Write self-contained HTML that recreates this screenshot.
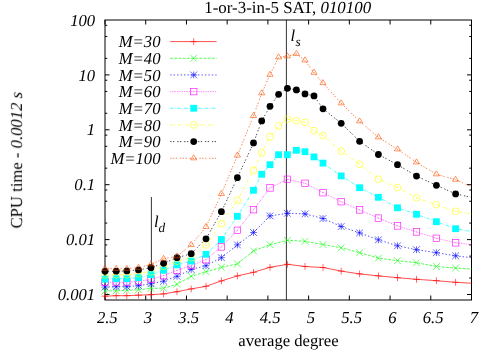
<!DOCTYPE html><html><head><meta charset="utf-8"><style>html,body{margin:0;padding:0;background:#fff}svg{display:block}text{font-family:"Liberation Serif",serif;font-size:16.67px;fill:#000;text-rendering:geometricPrecision}.i{font-style:italic}</style></head><body>
<svg width="500" height="350" viewBox="0 0 500 350">
<rect width="500" height="350" fill="#fff"/>
<defs><clipPath id="c"><rect x="105" y="20" width="366.5" height="280"/></clipPath></defs>
<g stroke="#000" stroke-width="1" fill="none">
<rect x="105" y="20" width="366.5" height="280"/>
<path d="M105 294.50h4.5M471.5 294.50h-4.5M105 277.97h2.25M471.5 277.97h-2.25M105 256.13h2.25M471.5 256.13h-2.25M105 244.92h2.25M471.5 244.92h-2.25M105 239.60h4.5M471.5 239.60h-4.5M105 223.07h2.25M471.5 223.07h-2.25M105 201.23h2.25M471.5 201.23h-2.25M105 190.02h2.25M471.5 190.02h-2.25M105 184.70h4.5M471.5 184.70h-4.5M105 168.17h2.25M471.5 168.17h-2.25M105 146.33h2.25M471.5 146.33h-2.25M105 135.12h2.25M471.5 135.12h-2.25M105 129.80h4.5M471.5 129.80h-4.5M105 113.27h2.25M471.5 113.27h-2.25M105 91.43h2.25M471.5 91.43h-2.25M105 80.22h2.25M471.5 80.22h-2.25M105 74.90h4.5M471.5 74.90h-4.5M105 58.37h2.25M471.5 58.37h-2.25M105 36.53h2.25M471.5 36.53h-2.25M105 25.32h2.25M471.5 25.32h-2.25M105.00 300v-4.5M105.00 20v4.5M145.72 300v-4.5M145.72 20v4.5M186.44 300v-4.5M186.44 20v4.5M227.17 300v-4.5M227.17 20v4.5M267.89 300v-4.5M267.89 20v4.5M308.61 300v-4.5M308.61 20v4.5M349.33 300v-4.5M349.33 20v4.5M390.06 300v-4.5M390.06 20v4.5M430.78 300v-4.5M430.78 20v4.5M471.50 300v-4.5M471.50 20v4.5"/>
<path d="M151.4 300V197M286.4 300V20" stroke-width="0.8"/>
</g>
<g clip-path="url(#c)">
<polyline points="105.00,296.20 116.20,295.70 126.80,295.70 138.50,295.20 151.00,294.70 163.60,293.90 177.00,291.70 191.20,288.90 206.00,286.30 221.40,280.90 237.40,275.90 253.50,272.30 270.00,267.30 287.40,264.30 305.00,266.50 323.00,267.50 341.20,271.10 359.60,273.90 378.40,275.90 397.50,277.70 416.50,279.30 436.40,280.70 455.60,282.30 476.00,283.50" fill="none" stroke="#ff0000" stroke-width="0.7"/>
<polyline points="105.00,291.00 116.20,290.80 126.80,290.30 138.50,289.80 151.00,288.30 163.60,288.20 177.00,284.30 191.20,276.30 206.00,271.70 221.40,267.30 237.40,263.90 253.50,250.90 270.00,244.70 287.40,240.30 305.00,241.30 323.00,244.50 341.20,247.80 359.60,252.70 378.40,258.10 397.50,260.70 416.50,262.70 436.40,266.50 455.60,268.10 476.00,269.10" fill="none" stroke="#00ff00" stroke-width="0.7" stroke-dasharray="2.78 1.39"/>
<polyline points="105.00,287.00 116.20,286.70 126.80,286.70 138.50,285.70 151.00,283.70 163.60,281.20 177.00,276.30 191.20,269.50 206.00,265.70 221.40,257.70 237.40,244.90 253.50,232.50 270.00,215.90 287.40,213.30 305.00,213.90 323.00,218.50 341.20,226.50 359.60,232.90 378.40,239.80 397.50,245.80 416.50,249.70 436.40,252.70 455.60,255.80 476.00,258.30" fill="none" stroke="#0000ff" stroke-width="0.7" stroke-dasharray="1.39 2.08"/>
<polyline points="105.00,282.10 116.20,282.20 126.80,282.20 138.50,281.30 151.00,279.50 163.60,275.70 177.00,270.30 191.20,265.50 206.00,259.70 221.40,246.90 237.40,230.30 253.50,209.70 270.00,187.90 287.40,179.30 305.00,183.30 323.00,192.70 341.20,201.70 359.60,209.90 378.40,218.10 397.50,225.90 416.50,231.90 436.40,238.30 455.60,242.80 476.00,245.10" fill="none" stroke="#ff00ff" stroke-width="0.7" stroke-dasharray="0.69 1.04"/>
<polyline points="105.00,279.10 116.20,278.70 126.80,278.70 138.50,277.70 151.00,274.70 163.60,270.30 177.00,264.90 191.20,261.10 206.00,254.30 221.40,239.50 237.40,216.30 253.50,190.30 261.70,174.30 270.00,164.70 278.60,154.70 287.40,154.70 296.40,150.30 305.00,151.70 314.00,156.90 323.00,163.10 341.20,175.90 359.60,187.70 378.40,197.30 397.50,207.80 416.50,214.30 436.40,221.70 455.60,228.70 476.00,232.30" fill="none" stroke="#00ffff" stroke-width="0.7" stroke-dasharray="3.47 1.39 0.69 1.39"/>
<polyline points="105.00,275.00 116.20,274.70 126.80,274.70 138.50,273.70 151.00,271.90 163.60,266.30 177.00,261.30 191.20,257.70 206.00,244.90 221.40,223.70 237.40,200.30 253.50,170.30 261.70,152.70 270.00,136.70 278.60,125.90 287.40,119.30 296.40,120.70 305.00,122.30 314.00,130.70 323.00,135.50 341.20,151.10 359.60,164.30 378.40,179.10 397.50,187.50 416.50,197.80 436.40,204.70 455.60,211.30 476.00,214.80" fill="none" stroke="#ffff00" stroke-width="0.7" stroke-dasharray="2.78 2.08 0.69 2.08"/>
<polyline points="105.00,271.30 116.20,271.20 126.80,270.90 138.50,269.90 151.00,267.70 163.60,263.30 177.00,257.70 191.20,253.70 206.00,238.80 221.40,211.70 237.40,177.70 253.50,142.90 261.70,120.90 270.00,106.30 278.60,94.30 287.40,88.30 296.40,89.90 305.00,93.90 314.00,95.90 323.00,108.80 341.20,123.30 359.60,141.30 378.40,154.50 397.50,164.70 416.50,176.10 436.40,185.30 455.60,193.90 476.00,198.30" fill="none" stroke="#000000" stroke-width="0.7" stroke-dasharray="1.39 1.39 1.39 2.78"/>
<polyline points="105.00,268.70 116.20,268.70 126.80,268.70 138.50,267.70 151.00,264.30 163.60,258.80 177.00,256.30 191.20,244.90 206.00,226.90 221.40,193.90 237.40,155.50 253.50,115.90 261.70,93.30 270.00,74.70 278.60,57.30 287.40,56.30 296.40,53.90 305.00,60.30 314.00,72.70 323.00,83.10 341.20,103.30 359.60,121.30 378.40,137.30 397.50,149.30 416.50,162.30 436.40,174.30 455.60,179.70 476.00,188.80" fill="none" stroke="#ff4d00" stroke-width="0.7" stroke-dasharray="1.39 1.39 1.39 1.39 1.39 2.78"/>
</g>
<path d="M105.00 292.80V299.60M101.60 296.20H108.40" stroke="#ff0000" stroke-width="0.60" fill="none"/>
<path d="M116.20 292.30V299.10M112.80 295.70H119.60" stroke="#ff0000" stroke-width="0.60" fill="none"/>
<path d="M126.80 292.30V299.10M123.40 295.70H130.20" stroke="#ff0000" stroke-width="0.60" fill="none"/>
<path d="M138.50 291.80V298.60M135.10 295.20H141.90" stroke="#ff0000" stroke-width="0.60" fill="none"/>
<path d="M151.00 291.30V298.10M147.60 294.70H154.40" stroke="#ff0000" stroke-width="0.60" fill="none"/>
<path d="M163.60 290.50V297.30M160.20 293.90H167.00" stroke="#ff0000" stroke-width="0.60" fill="none"/>
<path d="M177.00 288.30V295.10M173.60 291.70H180.40" stroke="#ff0000" stroke-width="0.60" fill="none"/>
<path d="M191.20 285.50V292.30M187.80 288.90H194.60" stroke="#ff0000" stroke-width="0.60" fill="none"/>
<path d="M206.00 282.90V289.70M202.60 286.30H209.40" stroke="#ff0000" stroke-width="0.60" fill="none"/>
<path d="M221.40 277.50V284.30M218.00 280.90H224.80" stroke="#ff0000" stroke-width="0.60" fill="none"/>
<path d="M237.40 272.50V279.30M234.00 275.90H240.80" stroke="#ff0000" stroke-width="0.60" fill="none"/>
<path d="M253.50 268.90V275.70M250.10 272.30H256.90" stroke="#ff0000" stroke-width="0.60" fill="none"/>
<path d="M270.00 263.90V270.70M266.60 267.30H273.40" stroke="#ff0000" stroke-width="0.60" fill="none"/>
<path d="M287.40 260.90V267.70M284.00 264.30H290.80" stroke="#ff0000" stroke-width="0.60" fill="none"/>
<path d="M305.00 263.10V269.90M301.60 266.50H308.40" stroke="#ff0000" stroke-width="0.60" fill="none"/>
<path d="M323.00 264.10V270.90M319.60 267.50H326.40" stroke="#ff0000" stroke-width="0.60" fill="none"/>
<path d="M341.20 267.70V274.50M337.80 271.10H344.60" stroke="#ff0000" stroke-width="0.60" fill="none"/>
<path d="M359.60 270.50V277.30M356.20 273.90H363.00" stroke="#ff0000" stroke-width="0.60" fill="none"/>
<path d="M378.40 272.50V279.30M375.00 275.90H381.80" stroke="#ff0000" stroke-width="0.60" fill="none"/>
<path d="M397.50 274.30V281.10M394.10 277.70H400.90" stroke="#ff0000" stroke-width="0.60" fill="none"/>
<path d="M416.50 275.90V282.70M413.10 279.30H419.90" stroke="#ff0000" stroke-width="0.60" fill="none"/>
<path d="M436.40 277.30V284.10M433.00 280.70H439.80" stroke="#ff0000" stroke-width="0.60" fill="none"/>
<path d="M455.60 278.90V285.70M452.20 282.30H459.00" stroke="#ff0000" stroke-width="0.60" fill="none"/>
<path d="M101.60 287.60L108.40 294.40M101.60 294.40L108.40 287.60" stroke="#00ff00" stroke-width="0.60" fill="none"/>
<path d="M112.80 287.40L119.60 294.20M112.80 294.20L119.60 287.40" stroke="#00ff00" stroke-width="0.60" fill="none"/>
<path d="M123.40 286.90L130.20 293.70M123.40 293.70L130.20 286.90" stroke="#00ff00" stroke-width="0.60" fill="none"/>
<path d="M135.10 286.40L141.90 293.20M135.10 293.20L141.90 286.40" stroke="#00ff00" stroke-width="0.60" fill="none"/>
<path d="M147.60 284.90L154.40 291.70M147.60 291.70L154.40 284.90" stroke="#00ff00" stroke-width="0.60" fill="none"/>
<path d="M160.20 284.80L167.00 291.60M160.20 291.60L167.00 284.80" stroke="#00ff00" stroke-width="0.60" fill="none"/>
<path d="M173.60 280.90L180.40 287.70M173.60 287.70L180.40 280.90" stroke="#00ff00" stroke-width="0.60" fill="none"/>
<path d="M187.80 272.90L194.60 279.70M187.80 279.70L194.60 272.90" stroke="#00ff00" stroke-width="0.60" fill="none"/>
<path d="M202.60 268.30L209.40 275.10M202.60 275.10L209.40 268.30" stroke="#00ff00" stroke-width="0.60" fill="none"/>
<path d="M218.00 263.90L224.80 270.70M218.00 270.70L224.80 263.90" stroke="#00ff00" stroke-width="0.60" fill="none"/>
<path d="M234.00 260.50L240.80 267.30M234.00 267.30L240.80 260.50" stroke="#00ff00" stroke-width="0.60" fill="none"/>
<path d="M250.10 247.50L256.90 254.30M250.10 254.30L256.90 247.50" stroke="#00ff00" stroke-width="0.60" fill="none"/>
<path d="M266.60 241.30L273.40 248.10M266.60 248.10L273.40 241.30" stroke="#00ff00" stroke-width="0.60" fill="none"/>
<path d="M284.00 236.90L290.80 243.70M284.00 243.70L290.80 236.90" stroke="#00ff00" stroke-width="0.60" fill="none"/>
<path d="M301.60 237.90L308.40 244.70M301.60 244.70L308.40 237.90" stroke="#00ff00" stroke-width="0.60" fill="none"/>
<path d="M319.60 241.10L326.40 247.90M319.60 247.90L326.40 241.10" stroke="#00ff00" stroke-width="0.60" fill="none"/>
<path d="M337.80 244.40L344.60 251.20M337.80 251.20L344.60 244.40" stroke="#00ff00" stroke-width="0.60" fill="none"/>
<path d="M356.20 249.30L363.00 256.10M356.20 256.10L363.00 249.30" stroke="#00ff00" stroke-width="0.60" fill="none"/>
<path d="M375.00 254.70L381.80 261.50M375.00 261.50L381.80 254.70" stroke="#00ff00" stroke-width="0.60" fill="none"/>
<path d="M394.10 257.30L400.90 264.10M394.10 264.10L400.90 257.30" stroke="#00ff00" stroke-width="0.60" fill="none"/>
<path d="M413.10 259.30L419.90 266.10M413.10 266.10L419.90 259.30" stroke="#00ff00" stroke-width="0.60" fill="none"/>
<path d="M433.00 263.10L439.80 269.90M433.00 269.90L439.80 263.10" stroke="#00ff00" stroke-width="0.60" fill="none"/>
<path d="M452.20 264.70L459.00 271.50M452.20 271.50L459.00 264.70" stroke="#00ff00" stroke-width="0.60" fill="none"/>
<path d="M105.00 283.60V290.40M101.60 287.00H108.40" stroke="#0000ff" stroke-width="0.60" fill="none"/><path d="M101.60 283.60L108.40 290.40M101.60 290.40L108.40 283.60" stroke="#0000ff" stroke-width="0.60" fill="none"/>
<path d="M116.20 283.30V290.10M112.80 286.70H119.60" stroke="#0000ff" stroke-width="0.60" fill="none"/><path d="M112.80 283.30L119.60 290.10M112.80 290.10L119.60 283.30" stroke="#0000ff" stroke-width="0.60" fill="none"/>
<path d="M126.80 283.30V290.10M123.40 286.70H130.20" stroke="#0000ff" stroke-width="0.60" fill="none"/><path d="M123.40 283.30L130.20 290.10M123.40 290.10L130.20 283.30" stroke="#0000ff" stroke-width="0.60" fill="none"/>
<path d="M138.50 282.30V289.10M135.10 285.70H141.90" stroke="#0000ff" stroke-width="0.60" fill="none"/><path d="M135.10 282.30L141.90 289.10M135.10 289.10L141.90 282.30" stroke="#0000ff" stroke-width="0.60" fill="none"/>
<path d="M151.00 280.30V287.10M147.60 283.70H154.40" stroke="#0000ff" stroke-width="0.60" fill="none"/><path d="M147.60 280.30L154.40 287.10M147.60 287.10L154.40 280.30" stroke="#0000ff" stroke-width="0.60" fill="none"/>
<path d="M163.60 277.80V284.60M160.20 281.20H167.00" stroke="#0000ff" stroke-width="0.60" fill="none"/><path d="M160.20 277.80L167.00 284.60M160.20 284.60L167.00 277.80" stroke="#0000ff" stroke-width="0.60" fill="none"/>
<path d="M177.00 272.90V279.70M173.60 276.30H180.40" stroke="#0000ff" stroke-width="0.60" fill="none"/><path d="M173.60 272.90L180.40 279.70M173.60 279.70L180.40 272.90" stroke="#0000ff" stroke-width="0.60" fill="none"/>
<path d="M191.20 266.10V272.90M187.80 269.50H194.60" stroke="#0000ff" stroke-width="0.60" fill="none"/><path d="M187.80 266.10L194.60 272.90M187.80 272.90L194.60 266.10" stroke="#0000ff" stroke-width="0.60" fill="none"/>
<path d="M206.00 262.30V269.10M202.60 265.70H209.40" stroke="#0000ff" stroke-width="0.60" fill="none"/><path d="M202.60 262.30L209.40 269.10M202.60 269.10L209.40 262.30" stroke="#0000ff" stroke-width="0.60" fill="none"/>
<path d="M221.40 254.30V261.10M218.00 257.70H224.80" stroke="#0000ff" stroke-width="0.60" fill="none"/><path d="M218.00 254.30L224.80 261.10M218.00 261.10L224.80 254.30" stroke="#0000ff" stroke-width="0.60" fill="none"/>
<path d="M237.40 241.50V248.30M234.00 244.90H240.80" stroke="#0000ff" stroke-width="0.60" fill="none"/><path d="M234.00 241.50L240.80 248.30M234.00 248.30L240.80 241.50" stroke="#0000ff" stroke-width="0.60" fill="none"/>
<path d="M253.50 229.10V235.90M250.10 232.50H256.90" stroke="#0000ff" stroke-width="0.60" fill="none"/><path d="M250.10 229.10L256.90 235.90M250.10 235.90L256.90 229.10" stroke="#0000ff" stroke-width="0.60" fill="none"/>
<path d="M270.00 212.50V219.30M266.60 215.90H273.40" stroke="#0000ff" stroke-width="0.60" fill="none"/><path d="M266.60 212.50L273.40 219.30M266.60 219.30L273.40 212.50" stroke="#0000ff" stroke-width="0.60" fill="none"/>
<path d="M287.40 209.90V216.70M284.00 213.30H290.80" stroke="#0000ff" stroke-width="0.60" fill="none"/><path d="M284.00 209.90L290.80 216.70M284.00 216.70L290.80 209.90" stroke="#0000ff" stroke-width="0.60" fill="none"/>
<path d="M305.00 210.50V217.30M301.60 213.90H308.40" stroke="#0000ff" stroke-width="0.60" fill="none"/><path d="M301.60 210.50L308.40 217.30M301.60 217.30L308.40 210.50" stroke="#0000ff" stroke-width="0.60" fill="none"/>
<path d="M323.00 215.10V221.90M319.60 218.50H326.40" stroke="#0000ff" stroke-width="0.60" fill="none"/><path d="M319.60 215.10L326.40 221.90M319.60 221.90L326.40 215.10" stroke="#0000ff" stroke-width="0.60" fill="none"/>
<path d="M341.20 223.10V229.90M337.80 226.50H344.60" stroke="#0000ff" stroke-width="0.60" fill="none"/><path d="M337.80 223.10L344.60 229.90M337.80 229.90L344.60 223.10" stroke="#0000ff" stroke-width="0.60" fill="none"/>
<path d="M359.60 229.50V236.30M356.20 232.90H363.00" stroke="#0000ff" stroke-width="0.60" fill="none"/><path d="M356.20 229.50L363.00 236.30M356.20 236.30L363.00 229.50" stroke="#0000ff" stroke-width="0.60" fill="none"/>
<path d="M378.40 236.40V243.20M375.00 239.80H381.80" stroke="#0000ff" stroke-width="0.60" fill="none"/><path d="M375.00 236.40L381.80 243.20M375.00 243.20L381.80 236.40" stroke="#0000ff" stroke-width="0.60" fill="none"/>
<path d="M397.50 242.40V249.20M394.10 245.80H400.90" stroke="#0000ff" stroke-width="0.60" fill="none"/><path d="M394.10 242.40L400.90 249.20M394.10 249.20L400.90 242.40" stroke="#0000ff" stroke-width="0.60" fill="none"/>
<path d="M416.50 246.30V253.10M413.10 249.70H419.90" stroke="#0000ff" stroke-width="0.60" fill="none"/><path d="M413.10 246.30L419.90 253.10M413.10 253.10L419.90 246.30" stroke="#0000ff" stroke-width="0.60" fill="none"/>
<path d="M436.40 249.30V256.10M433.00 252.70H439.80" stroke="#0000ff" stroke-width="0.60" fill="none"/><path d="M433.00 249.30L439.80 256.10M433.00 256.10L439.80 249.30" stroke="#0000ff" stroke-width="0.60" fill="none"/>
<path d="M455.60 252.40V259.20M452.20 255.80H459.00" stroke="#0000ff" stroke-width="0.60" fill="none"/><path d="M452.20 252.40L459.00 259.20M452.20 259.20L459.00 252.40" stroke="#0000ff" stroke-width="0.60" fill="none"/>
<rect x="101.75" y="278.85" width="6.50" height="6.50" stroke="#ff00ff" stroke-width="0.60" fill="none"/><circle cx="105.00" cy="282.10" r="0.4" fill="#ff00ff"/>
<rect x="112.95" y="278.95" width="6.50" height="6.50" stroke="#ff00ff" stroke-width="0.60" fill="none"/><circle cx="116.20" cy="282.20" r="0.4" fill="#ff00ff"/>
<rect x="123.55" y="278.95" width="6.50" height="6.50" stroke="#ff00ff" stroke-width="0.60" fill="none"/><circle cx="126.80" cy="282.20" r="0.4" fill="#ff00ff"/>
<rect x="135.25" y="278.05" width="6.50" height="6.50" stroke="#ff00ff" stroke-width="0.60" fill="none"/><circle cx="138.50" cy="281.30" r="0.4" fill="#ff00ff"/>
<rect x="147.75" y="276.25" width="6.50" height="6.50" stroke="#ff00ff" stroke-width="0.60" fill="none"/><circle cx="151.00" cy="279.50" r="0.4" fill="#ff00ff"/>
<rect x="160.35" y="272.45" width="6.50" height="6.50" stroke="#ff00ff" stroke-width="0.60" fill="none"/><circle cx="163.60" cy="275.70" r="0.4" fill="#ff00ff"/>
<rect x="173.75" y="267.05" width="6.50" height="6.50" stroke="#ff00ff" stroke-width="0.60" fill="none"/><circle cx="177.00" cy="270.30" r="0.4" fill="#ff00ff"/>
<rect x="187.95" y="262.25" width="6.50" height="6.50" stroke="#ff00ff" stroke-width="0.60" fill="none"/><circle cx="191.20" cy="265.50" r="0.4" fill="#ff00ff"/>
<rect x="202.75" y="256.45" width="6.50" height="6.50" stroke="#ff00ff" stroke-width="0.60" fill="none"/><circle cx="206.00" cy="259.70" r="0.4" fill="#ff00ff"/>
<rect x="218.15" y="243.65" width="6.50" height="6.50" stroke="#ff00ff" stroke-width="0.60" fill="none"/><circle cx="221.40" cy="246.90" r="0.4" fill="#ff00ff"/>
<rect x="234.15" y="227.05" width="6.50" height="6.50" stroke="#ff00ff" stroke-width="0.60" fill="none"/><circle cx="237.40" cy="230.30" r="0.4" fill="#ff00ff"/>
<rect x="250.25" y="206.45" width="6.50" height="6.50" stroke="#ff00ff" stroke-width="0.60" fill="none"/><circle cx="253.50" cy="209.70" r="0.4" fill="#ff00ff"/>
<rect x="266.75" y="184.65" width="6.50" height="6.50" stroke="#ff00ff" stroke-width="0.60" fill="none"/><circle cx="270.00" cy="187.90" r="0.4" fill="#ff00ff"/>
<rect x="284.15" y="176.05" width="6.50" height="6.50" stroke="#ff00ff" stroke-width="0.60" fill="none"/><circle cx="287.40" cy="179.30" r="0.4" fill="#ff00ff"/>
<rect x="301.75" y="180.05" width="6.50" height="6.50" stroke="#ff00ff" stroke-width="0.60" fill="none"/><circle cx="305.00" cy="183.30" r="0.4" fill="#ff00ff"/>
<rect x="319.75" y="189.45" width="6.50" height="6.50" stroke="#ff00ff" stroke-width="0.60" fill="none"/><circle cx="323.00" cy="192.70" r="0.4" fill="#ff00ff"/>
<rect x="337.95" y="198.45" width="6.50" height="6.50" stroke="#ff00ff" stroke-width="0.60" fill="none"/><circle cx="341.20" cy="201.70" r="0.4" fill="#ff00ff"/>
<rect x="356.35" y="206.65" width="6.50" height="6.50" stroke="#ff00ff" stroke-width="0.60" fill="none"/><circle cx="359.60" cy="209.90" r="0.4" fill="#ff00ff"/>
<rect x="375.15" y="214.85" width="6.50" height="6.50" stroke="#ff00ff" stroke-width="0.60" fill="none"/><circle cx="378.40" cy="218.10" r="0.4" fill="#ff00ff"/>
<rect x="394.25" y="222.65" width="6.50" height="6.50" stroke="#ff00ff" stroke-width="0.60" fill="none"/><circle cx="397.50" cy="225.90" r="0.4" fill="#ff00ff"/>
<rect x="413.25" y="228.65" width="6.50" height="6.50" stroke="#ff00ff" stroke-width="0.60" fill="none"/><circle cx="416.50" cy="231.90" r="0.4" fill="#ff00ff"/>
<rect x="433.15" y="235.05" width="6.50" height="6.50" stroke="#ff00ff" stroke-width="0.60" fill="none"/><circle cx="436.40" cy="238.30" r="0.4" fill="#ff00ff"/>
<rect x="452.35" y="239.55" width="6.50" height="6.50" stroke="#ff00ff" stroke-width="0.60" fill="none"/><circle cx="455.60" cy="242.80" r="0.4" fill="#ff00ff"/>
<rect x="101.60" y="275.70" width="6.80" height="6.80" fill="#00ffff"/>
<rect x="112.80" y="275.30" width="6.80" height="6.80" fill="#00ffff"/>
<rect x="123.40" y="275.30" width="6.80" height="6.80" fill="#00ffff"/>
<rect x="135.10" y="274.30" width="6.80" height="6.80" fill="#00ffff"/>
<rect x="147.60" y="271.30" width="6.80" height="6.80" fill="#00ffff"/>
<rect x="160.20" y="266.90" width="6.80" height="6.80" fill="#00ffff"/>
<rect x="173.60" y="261.50" width="6.80" height="6.80" fill="#00ffff"/>
<rect x="187.80" y="257.70" width="6.80" height="6.80" fill="#00ffff"/>
<rect x="202.60" y="250.90" width="6.80" height="6.80" fill="#00ffff"/>
<rect x="218.00" y="236.10" width="6.80" height="6.80" fill="#00ffff"/>
<rect x="234.00" y="212.90" width="6.80" height="6.80" fill="#00ffff"/>
<rect x="250.10" y="186.90" width="6.80" height="6.80" fill="#00ffff"/>
<rect x="258.30" y="170.90" width="6.80" height="6.80" fill="#00ffff"/>
<rect x="266.60" y="161.30" width="6.80" height="6.80" fill="#00ffff"/>
<rect x="275.20" y="151.30" width="6.80" height="6.80" fill="#00ffff"/>
<rect x="284.00" y="151.30" width="6.80" height="6.80" fill="#00ffff"/>
<rect x="293.00" y="146.90" width="6.80" height="6.80" fill="#00ffff"/>
<rect x="301.60" y="148.30" width="6.80" height="6.80" fill="#00ffff"/>
<rect x="310.60" y="153.50" width="6.80" height="6.80" fill="#00ffff"/>
<rect x="319.60" y="159.70" width="6.80" height="6.80" fill="#00ffff"/>
<rect x="337.80" y="172.50" width="6.80" height="6.80" fill="#00ffff"/>
<rect x="356.20" y="184.30" width="6.80" height="6.80" fill="#00ffff"/>
<rect x="375.00" y="193.90" width="6.80" height="6.80" fill="#00ffff"/>
<rect x="394.10" y="204.40" width="6.80" height="6.80" fill="#00ffff"/>
<rect x="413.10" y="210.90" width="6.80" height="6.80" fill="#00ffff"/>
<rect x="433.00" y="218.30" width="6.80" height="6.80" fill="#00ffff"/>
<rect x="452.20" y="225.30" width="6.80" height="6.80" fill="#00ffff"/>
<circle cx="105.00" cy="275.00" r="3.40" stroke="#ffff00" stroke-width="0.60" fill="none"/><circle cx="105.00" cy="275.00" r="0.4" fill="#ffff00"/>
<circle cx="116.20" cy="274.70" r="3.40" stroke="#ffff00" stroke-width="0.60" fill="none"/><circle cx="116.20" cy="274.70" r="0.4" fill="#ffff00"/>
<circle cx="126.80" cy="274.70" r="3.40" stroke="#ffff00" stroke-width="0.60" fill="none"/><circle cx="126.80" cy="274.70" r="0.4" fill="#ffff00"/>
<circle cx="138.50" cy="273.70" r="3.40" stroke="#ffff00" stroke-width="0.60" fill="none"/><circle cx="138.50" cy="273.70" r="0.4" fill="#ffff00"/>
<circle cx="151.00" cy="271.90" r="3.40" stroke="#ffff00" stroke-width="0.60" fill="none"/><circle cx="151.00" cy="271.90" r="0.4" fill="#ffff00"/>
<circle cx="163.60" cy="266.30" r="3.40" stroke="#ffff00" stroke-width="0.60" fill="none"/><circle cx="163.60" cy="266.30" r="0.4" fill="#ffff00"/>
<circle cx="177.00" cy="261.30" r="3.40" stroke="#ffff00" stroke-width="0.60" fill="none"/><circle cx="177.00" cy="261.30" r="0.4" fill="#ffff00"/>
<circle cx="191.20" cy="257.70" r="3.40" stroke="#ffff00" stroke-width="0.60" fill="none"/><circle cx="191.20" cy="257.70" r="0.4" fill="#ffff00"/>
<circle cx="206.00" cy="244.90" r="3.40" stroke="#ffff00" stroke-width="0.60" fill="none"/><circle cx="206.00" cy="244.90" r="0.4" fill="#ffff00"/>
<circle cx="221.40" cy="223.70" r="3.40" stroke="#ffff00" stroke-width="0.60" fill="none"/><circle cx="221.40" cy="223.70" r="0.4" fill="#ffff00"/>
<circle cx="237.40" cy="200.30" r="3.40" stroke="#ffff00" stroke-width="0.60" fill="none"/><circle cx="237.40" cy="200.30" r="0.4" fill="#ffff00"/>
<circle cx="253.50" cy="170.30" r="3.40" stroke="#ffff00" stroke-width="0.60" fill="none"/><circle cx="253.50" cy="170.30" r="0.4" fill="#ffff00"/>
<circle cx="261.70" cy="152.70" r="3.40" stroke="#ffff00" stroke-width="0.60" fill="none"/><circle cx="261.70" cy="152.70" r="0.4" fill="#ffff00"/>
<circle cx="270.00" cy="136.70" r="3.40" stroke="#ffff00" stroke-width="0.60" fill="none"/><circle cx="270.00" cy="136.70" r="0.4" fill="#ffff00"/>
<circle cx="278.60" cy="125.90" r="3.40" stroke="#ffff00" stroke-width="0.60" fill="none"/><circle cx="278.60" cy="125.90" r="0.4" fill="#ffff00"/>
<circle cx="287.40" cy="119.30" r="3.40" stroke="#ffff00" stroke-width="0.60" fill="none"/><circle cx="287.40" cy="119.30" r="0.4" fill="#ffff00"/>
<circle cx="296.40" cy="120.70" r="3.40" stroke="#ffff00" stroke-width="0.60" fill="none"/><circle cx="296.40" cy="120.70" r="0.4" fill="#ffff00"/>
<circle cx="305.00" cy="122.30" r="3.40" stroke="#ffff00" stroke-width="0.60" fill="none"/><circle cx="305.00" cy="122.30" r="0.4" fill="#ffff00"/>
<circle cx="314.00" cy="130.70" r="3.40" stroke="#ffff00" stroke-width="0.60" fill="none"/><circle cx="314.00" cy="130.70" r="0.4" fill="#ffff00"/>
<circle cx="323.00" cy="135.50" r="3.40" stroke="#ffff00" stroke-width="0.60" fill="none"/><circle cx="323.00" cy="135.50" r="0.4" fill="#ffff00"/>
<circle cx="341.20" cy="151.10" r="3.40" stroke="#ffff00" stroke-width="0.60" fill="none"/><circle cx="341.20" cy="151.10" r="0.4" fill="#ffff00"/>
<circle cx="359.60" cy="164.30" r="3.40" stroke="#ffff00" stroke-width="0.60" fill="none"/><circle cx="359.60" cy="164.30" r="0.4" fill="#ffff00"/>
<circle cx="378.40" cy="179.10" r="3.40" stroke="#ffff00" stroke-width="0.60" fill="none"/><circle cx="378.40" cy="179.10" r="0.4" fill="#ffff00"/>
<circle cx="397.50" cy="187.50" r="3.40" stroke="#ffff00" stroke-width="0.60" fill="none"/><circle cx="397.50" cy="187.50" r="0.4" fill="#ffff00"/>
<circle cx="416.50" cy="197.80" r="3.40" stroke="#ffff00" stroke-width="0.60" fill="none"/><circle cx="416.50" cy="197.80" r="0.4" fill="#ffff00"/>
<circle cx="436.40" cy="204.70" r="3.40" stroke="#ffff00" stroke-width="0.60" fill="none"/><circle cx="436.40" cy="204.70" r="0.4" fill="#ffff00"/>
<circle cx="455.60" cy="211.30" r="3.40" stroke="#ffff00" stroke-width="0.60" fill="none"/><circle cx="455.60" cy="211.30" r="0.4" fill="#ffff00"/>
<circle cx="105.00" cy="271.30" r="3.40" fill="#000000"/>
<circle cx="116.20" cy="271.20" r="3.40" fill="#000000"/>
<circle cx="126.80" cy="270.90" r="3.40" fill="#000000"/>
<circle cx="138.50" cy="269.90" r="3.40" fill="#000000"/>
<circle cx="151.00" cy="267.70" r="3.40" fill="#000000"/>
<circle cx="163.60" cy="263.30" r="3.40" fill="#000000"/>
<circle cx="177.00" cy="257.70" r="3.40" fill="#000000"/>
<circle cx="191.20" cy="253.70" r="3.40" fill="#000000"/>
<circle cx="206.00" cy="238.80" r="3.40" fill="#000000"/>
<circle cx="221.40" cy="211.70" r="3.40" fill="#000000"/>
<circle cx="237.40" cy="177.70" r="3.40" fill="#000000"/>
<circle cx="253.50" cy="142.90" r="3.40" fill="#000000"/>
<circle cx="261.70" cy="120.90" r="3.40" fill="#000000"/>
<circle cx="270.00" cy="106.30" r="3.40" fill="#000000"/>
<circle cx="278.60" cy="94.30" r="3.40" fill="#000000"/>
<circle cx="287.40" cy="88.30" r="3.40" fill="#000000"/>
<circle cx="296.40" cy="89.90" r="3.40" fill="#000000"/>
<circle cx="305.00" cy="93.90" r="3.40" fill="#000000"/>
<circle cx="314.00" cy="95.90" r="3.40" fill="#000000"/>
<circle cx="323.00" cy="108.80" r="3.40" fill="#000000"/>
<circle cx="341.20" cy="123.30" r="3.40" fill="#000000"/>
<circle cx="359.60" cy="141.30" r="3.40" fill="#000000"/>
<circle cx="378.40" cy="154.50" r="3.40" fill="#000000"/>
<circle cx="397.50" cy="164.70" r="3.40" fill="#000000"/>
<circle cx="416.50" cy="176.10" r="3.40" fill="#000000"/>
<circle cx="436.40" cy="185.30" r="3.40" fill="#000000"/>
<circle cx="455.60" cy="193.90" r="3.40" fill="#000000"/>
<path d="M105.00 265.23L101.90 270.25L108.10 270.25Z" stroke="#ff4d00" stroke-width="0.60" fill="none"/><circle cx="105.00" cy="268.70" r="0.4" fill="#ff4d00"/>
<path d="M116.20 265.23L113.10 270.25L119.30 270.25Z" stroke="#ff4d00" stroke-width="0.60" fill="none"/><circle cx="116.20" cy="268.70" r="0.4" fill="#ff4d00"/>
<path d="M126.80 265.23L123.70 270.25L129.90 270.25Z" stroke="#ff4d00" stroke-width="0.60" fill="none"/><circle cx="126.80" cy="268.70" r="0.4" fill="#ff4d00"/>
<path d="M138.50 264.23L135.40 269.25L141.60 269.25Z" stroke="#ff4d00" stroke-width="0.60" fill="none"/><circle cx="138.50" cy="267.70" r="0.4" fill="#ff4d00"/>
<path d="M151.00 260.83L147.90 265.85L154.10 265.85Z" stroke="#ff4d00" stroke-width="0.60" fill="none"/><circle cx="151.00" cy="264.30" r="0.4" fill="#ff4d00"/>
<path d="M163.60 255.33L160.50 260.35L166.70 260.35Z" stroke="#ff4d00" stroke-width="0.60" fill="none"/><circle cx="163.60" cy="258.80" r="0.4" fill="#ff4d00"/>
<path d="M177.00 252.83L173.90 257.85L180.10 257.85Z" stroke="#ff4d00" stroke-width="0.60" fill="none"/><circle cx="177.00" cy="256.30" r="0.4" fill="#ff4d00"/>
<path d="M191.20 241.43L188.10 246.45L194.30 246.45Z" stroke="#ff4d00" stroke-width="0.60" fill="none"/><circle cx="191.20" cy="244.90" r="0.4" fill="#ff4d00"/>
<path d="M206.00 223.43L202.90 228.45L209.10 228.45Z" stroke="#ff4d00" stroke-width="0.60" fill="none"/><circle cx="206.00" cy="226.90" r="0.4" fill="#ff4d00"/>
<path d="M221.40 190.43L218.30 195.45L224.50 195.45Z" stroke="#ff4d00" stroke-width="0.60" fill="none"/><circle cx="221.40" cy="193.90" r="0.4" fill="#ff4d00"/>
<path d="M237.40 152.03L234.30 157.05L240.50 157.05Z" stroke="#ff4d00" stroke-width="0.60" fill="none"/><circle cx="237.40" cy="155.50" r="0.4" fill="#ff4d00"/>
<path d="M253.50 112.43L250.40 117.45L256.60 117.45Z" stroke="#ff4d00" stroke-width="0.60" fill="none"/><circle cx="253.50" cy="115.90" r="0.4" fill="#ff4d00"/>
<path d="M261.70 89.83L258.60 94.85L264.80 94.85Z" stroke="#ff4d00" stroke-width="0.60" fill="none"/><circle cx="261.70" cy="93.30" r="0.4" fill="#ff4d00"/>
<path d="M270.00 71.23L266.90 76.25L273.10 76.25Z" stroke="#ff4d00" stroke-width="0.60" fill="none"/><circle cx="270.00" cy="74.70" r="0.4" fill="#ff4d00"/>
<path d="M278.60 53.83L275.50 58.85L281.70 58.85Z" stroke="#ff4d00" stroke-width="0.60" fill="none"/><circle cx="278.60" cy="57.30" r="0.4" fill="#ff4d00"/>
<path d="M287.40 52.83L284.30 57.85L290.50 57.85Z" stroke="#ff4d00" stroke-width="0.60" fill="none"/><circle cx="287.40" cy="56.30" r="0.4" fill="#ff4d00"/>
<path d="M296.40 50.43L293.30 55.45L299.50 55.45Z" stroke="#ff4d00" stroke-width="0.60" fill="none"/><circle cx="296.40" cy="53.90" r="0.4" fill="#ff4d00"/>
<path d="M305.00 56.83L301.90 61.85L308.10 61.85Z" stroke="#ff4d00" stroke-width="0.60" fill="none"/><circle cx="305.00" cy="60.30" r="0.4" fill="#ff4d00"/>
<path d="M314.00 69.23L310.90 74.25L317.10 74.25Z" stroke="#ff4d00" stroke-width="0.60" fill="none"/><circle cx="314.00" cy="72.70" r="0.4" fill="#ff4d00"/>
<path d="M323.00 79.63L319.90 84.65L326.10 84.65Z" stroke="#ff4d00" stroke-width="0.60" fill="none"/><circle cx="323.00" cy="83.10" r="0.4" fill="#ff4d00"/>
<path d="M341.20 99.83L338.10 104.85L344.30 104.85Z" stroke="#ff4d00" stroke-width="0.60" fill="none"/><circle cx="341.20" cy="103.30" r="0.4" fill="#ff4d00"/>
<path d="M359.60 117.83L356.50 122.85L362.70 122.85Z" stroke="#ff4d00" stroke-width="0.60" fill="none"/><circle cx="359.60" cy="121.30" r="0.4" fill="#ff4d00"/>
<path d="M378.40 133.83L375.30 138.85L381.50 138.85Z" stroke="#ff4d00" stroke-width="0.60" fill="none"/><circle cx="378.40" cy="137.30" r="0.4" fill="#ff4d00"/>
<path d="M397.50 145.83L394.40 150.85L400.60 150.85Z" stroke="#ff4d00" stroke-width="0.60" fill="none"/><circle cx="397.50" cy="149.30" r="0.4" fill="#ff4d00"/>
<path d="M416.50 158.83L413.40 163.85L419.60 163.85Z" stroke="#ff4d00" stroke-width="0.60" fill="none"/><circle cx="416.50" cy="162.30" r="0.4" fill="#ff4d00"/>
<path d="M436.40 170.83L433.30 175.85L439.50 175.85Z" stroke="#ff4d00" stroke-width="0.60" fill="none"/><circle cx="436.40" cy="174.30" r="0.4" fill="#ff4d00"/>
<path d="M455.60 176.23L452.50 181.25L458.70 181.25Z" stroke="#ff4d00" stroke-width="0.60" fill="none"/><circle cx="455.60" cy="179.70" r="0.4" fill="#ff4d00"/>
<g opacity="0.999">
<text class="i" x="160.5" y="47.20" text-anchor="end">M=30</text>
<path d="M170.2 41.60H216.6" fill="none" stroke="#ff0000" stroke-width="0.7"/>
<path d="M193.70 38.20V45.00M190.30 41.60H197.10" stroke="#ff0000" stroke-width="0.60" fill="none"/>
<text class="i" x="160.5" y="63.87" text-anchor="end">M=40</text>
<path d="M170.2 58.27H216.6" fill="none" stroke="#00ff00" stroke-width="0.7" stroke-dasharray="2.78 1.39"/>
<path d="M190.30 54.87L197.10 61.67M190.30 61.67L197.10 54.87" stroke="#00ff00" stroke-width="0.60" fill="none"/>
<text class="i" x="160.5" y="80.54" text-anchor="end">M=50</text>
<path d="M170.2 74.94H216.6" fill="none" stroke="#0000ff" stroke-width="0.7" stroke-dasharray="1.39 2.08"/>
<path d="M193.70 71.54V78.34M190.30 74.94H197.10" stroke="#0000ff" stroke-width="0.60" fill="none"/><path d="M190.30 71.54L197.10 78.34M190.30 78.34L197.10 71.54" stroke="#0000ff" stroke-width="0.60" fill="none"/>
<text class="i" x="160.5" y="97.21" text-anchor="end">M=60</text>
<path d="M170.2 91.61H216.6" fill="none" stroke="#ff00ff" stroke-width="0.7" stroke-dasharray="0.69 1.04"/>
<rect x="190.45" y="88.36" width="6.50" height="6.50" stroke="#ff00ff" stroke-width="0.60" fill="none"/><circle cx="193.70" cy="91.61" r="0.4" fill="#ff00ff"/>
<text class="i" x="160.5" y="113.88" text-anchor="end">M=70</text>
<path d="M170.2 108.28H216.6" fill="none" stroke="#00ffff" stroke-width="0.7" stroke-dasharray="3.47 1.39 0.69 1.39"/>
<rect x="190.30" y="104.88" width="6.80" height="6.80" fill="#00ffff"/>
<text class="i" x="160.5" y="130.55" text-anchor="end">M=80</text>
<path d="M170.2 124.95H216.6" fill="none" stroke="#ffff00" stroke-width="0.7" stroke-dasharray="2.78 2.08 0.69 2.08"/>
<circle cx="193.70" cy="124.95" r="3.40" stroke="#ffff00" stroke-width="0.60" fill="none"/><circle cx="193.70" cy="124.95" r="0.4" fill="#ffff00"/>
<text class="i" x="160.5" y="147.22" text-anchor="end">M=90</text>
<path d="M170.2 141.62H216.6" fill="none" stroke="#000000" stroke-width="0.7" stroke-dasharray="1.39 1.39 1.39 2.78"/>
<circle cx="193.70" cy="141.62" r="3.40" fill="#000000"/>
<text class="i" x="160.5" y="163.89" text-anchor="end">M=100</text>
<path d="M170.2 158.29H216.6" fill="none" stroke="#ff4d00" stroke-width="0.7" stroke-dasharray="1.39 1.39 1.39 1.39 1.39 2.78"/>
<path d="M193.70 154.82L190.60 159.84L196.80 159.84Z" stroke="#ff4d00" stroke-width="0.60" fill="none"/><circle cx="193.70" cy="158.29" r="0.4" fill="#ff4d00"/>
<text class="i" x="95.2" y="25.60" text-anchor="end">100</text>
<text class="i" x="95.2" y="80.50" text-anchor="end">10</text>
<text class="i" x="95.2" y="135.40" text-anchor="end">1</text>
<text class="i" x="95.2" y="190.30" text-anchor="end">0.1</text>
<text class="i" x="95.2" y="245.20" text-anchor="end">0.01</text>
<text class="i" x="95.2" y="300.10" text-anchor="end">0.001</text>
<text class="i" x="107.30" y="322.8" text-anchor="middle">2.5</text>
<text class="i" x="148.02" y="322.8" text-anchor="middle">3</text>
<text class="i" x="188.74" y="322.8" text-anchor="middle">3.5</text>
<text class="i" x="229.47" y="322.8" text-anchor="middle">4</text>
<text class="i" x="270.19" y="322.8" text-anchor="middle">4.5</text>
<text class="i" x="310.91" y="322.8" text-anchor="middle">5</text>
<text class="i" x="351.63" y="322.8" text-anchor="middle">5.5</text>
<text class="i" x="392.36" y="322.8" text-anchor="middle">6</text>
<text class="i" x="433.08" y="322.8" text-anchor="middle">6.5</text>
<text class="i" x="473.80" y="322.8" text-anchor="middle">7</text>
<text x="287.7" y="12.5" font-size="16.9px" text-anchor="middle" style="font-size:16.9px">1-or-3-in-5 SAT, <tspan class="i">010100</tspan></text>
<text x="288.5" y="345.5" text-anchor="middle">average degree</text>
<text transform="translate(21.9,160.2) rotate(-90)" text-anchor="middle">CPU time - <tspan class="i">0.0012 s</tspan></text>
<text class="i" x="153.9" y="227.2">l<tspan font-size="13.3px" dy="4.7">d</tspan></text>
<text class="i" x="290.5" y="41">l<tspan font-size="13.3px" dx="0.4" dy="4.7">s</tspan></text>
</g>
</svg></body></html>
